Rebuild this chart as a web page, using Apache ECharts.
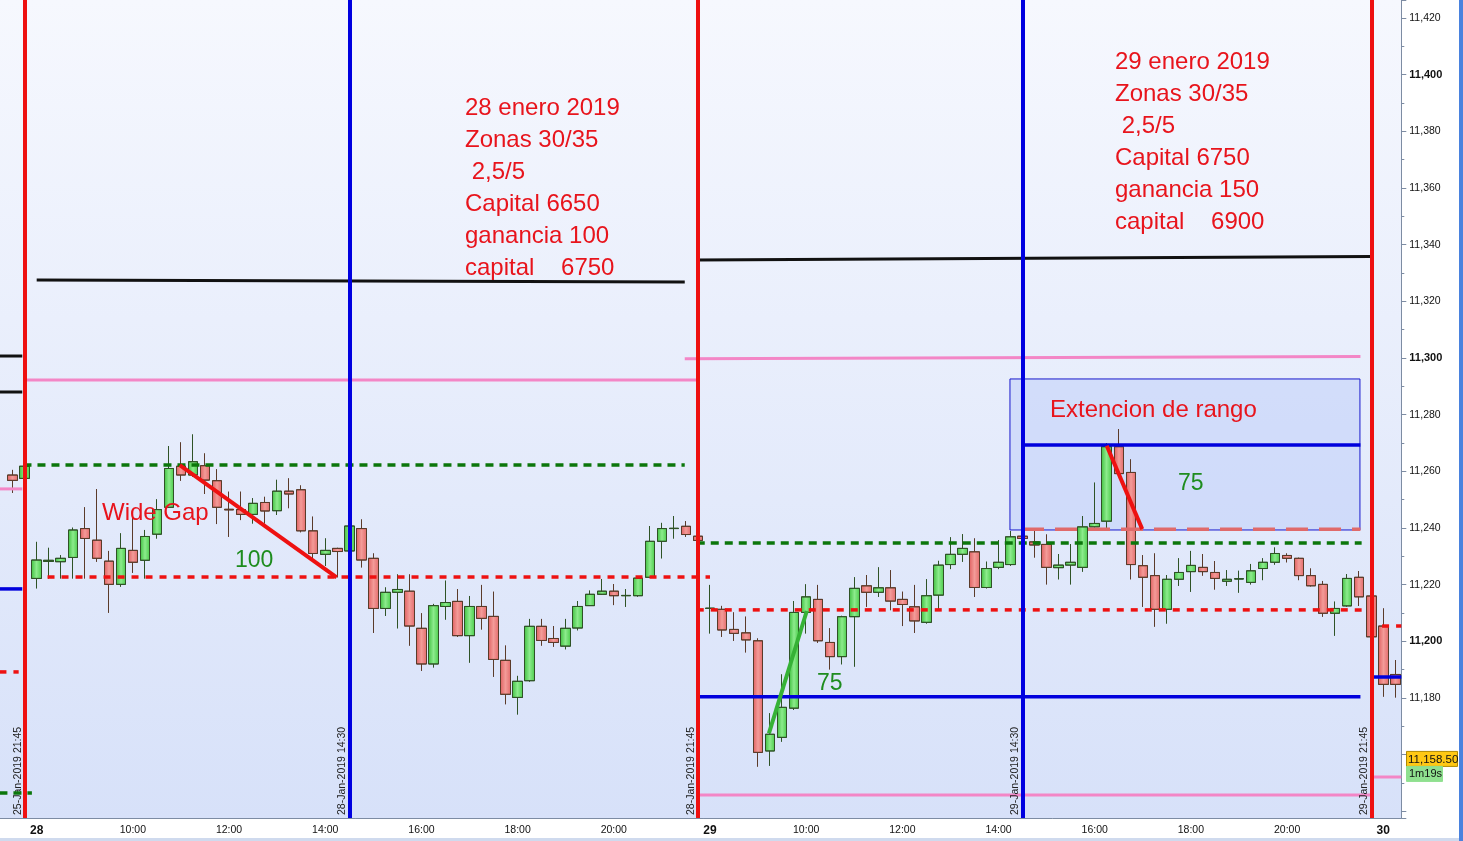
<!DOCTYPE html>
<html><head><meta charset="utf-8">
<script src="https://cdn.jsdelivr.net/npm/echarts@6/dist/echarts.min.js"></script>
<style>html,body{margin:0;padding:0;background:#fff;overflow:hidden}#c{width:1463px;height:841px}</style>
</head><body><div id="c"></div>
<script>
// ---------- DATA ----------
function slots(day, fromMin, toMin) {
  const out = [];
  for (let m = fromMin; m <= toMin; m += 15) {
    const h = String(Math.floor(m / 60)).padStart(2, '0');
    const mm = String(m % 60).padStart(2, '0');
    out.push(day + ' ' + h + ':' + mm);
  }
  return out;
}
// 15-minute bars; bar index 0 of the overlay axis = 28-Jan-2019 08:00
const categories = [].concat(
  slots('25-Jan-2019', 21 * 60 + 30, 21 * 60 + 45),
  slots('28-Jan-2019', 8 * 60, 21 * 60 + 45),
  slots('29-Jan-2019', 8 * 60, 21 * 60 + 45),
  slots('30-Jan-2019', 8 * 60, 8 * 60 + 15)
);

const opens = [
11258.7, 11257.5,
11222.2, 11228.2, 11228.1, 11229.6, 11239.8, 11235.7, 11228.3, 11220.1, 11232.1, 11228.6,
11237.8, 11247.3, 11261.8, 11258.7, 11262.0, 11256.7, 11246.6, 11246.5, 11244.8, 11249.0,
11246.1, 11253.0, 11253.5, 11239.0, 11230.7, 11232.8, 11231.9, 11239.8, 11229.3, 11211.6,
11217.3, 11217.7, 11204.6, 11192.0, 11212.3, 11214.1, 11202.0, 11212.3, 11208.8, 11193.3,
11180.2, 11186.1, 11205.3, 11201.0, 11198.3, 11204.7, 11212.6, 11216.6, 11217.7, 11216.1,
11216.1, 11222.6, 11235.3, 11239.8, 11240.6, 11237.1,
11211.6, 11211.3, 11204.2, 11203.0,
11200.2, 11161.3, 11166.1, 11176.4, 11210.2, 11214.8, 11199.6, 11194.6, 11208.7, 11219.6,
11217.3, 11218.9, 11214.8, 11212.2, 11206.7, 11216.3, 11227.1, 11230.7, 11231.6, 11219.0,
11226.1, 11227.1, 11237.1, 11235.1, 11234.2, 11226.0, 11226.9, 11226.1, 11240.4, 11242.4,
11268.7, 11259.6, 11226.7, 11223.2, 11211.3, 11221.9, 11224.6, 11226.1, 11224.3, 11221.2,
11222.0, 11220.8, 11225.7, 11227.9, 11230.3, 11229.3, 11223.2, 11220.1, 11209.9, 11212.5,
11222.6, 11216.0, 11205.4, 11188.3
];
const closes = [
11256.8, 11261.8,
11228.7, 11228.6, 11229.3, 11239.3, 11236.3, 11229.3, 11220.1, 11232.8, 11227.9, 11237.0,
11246.5, 11261.0, 11258.7, 11263.4, 11256.9, 11247.3, 11246.4, 11244.8, 11248.7, 11246.0,
11253.0, 11252.0, 11239.0, 11231.0, 11232.1, 11231.7, 11240.7, 11228.7, 11211.6, 11217.3,
11218.3, 11205.4, 11192.0, 11212.6, 11213.7, 11202.0, 11212.3, 11208.1, 11193.6, 11181.3,
11185.9, 11205.3, 11200.3, 11199.6, 11204.6, 11212.3, 11216.6, 11217.7, 11216.1, 11216.2,
11222.3, 11235.3, 11239.8, 11239.9, 11237.7, 11235.6,
11211.7, 11204.0, 11202.8, 11200.5,
11160.8, 11167.2, 11176.7, 11210.2, 11215.7, 11200.2, 11194.6, 11208.7, 11218.7, 11217.3,
11218.9, 11214.2, 11213.0, 11207.2, 11216.1, 11226.9, 11230.7, 11232.8, 11219.0, 11225.7,
11227.9, 11236.9, 11236.3, 11234.0, 11226.1, 11226.9, 11227.9, 11240.4, 11241.6, 11268.7,
11259.2, 11227.1, 11222.6, 11211.3, 11221.9, 11224.3, 11226.8, 11224.6, 11222.2, 11221.9,
11222.1, 11224.9, 11227.9, 11231.0, 11229.3, 11223.2, 11219.6, 11209.9, 11211.6, 11222.2,
11215.7, 11201.6, 11184.8, 11184.8
];
const lows = [
11252.4, 11256.0,
11218.7, 11222.2, 11222.2, 11222.2, 11222.2, 11228.1, 11210.1, 11219.3, 11224.2, 11222.2,
11236.3, 11247.3, 11256.7, 11258.1, 11252.0, 11241.4, 11236.9, 11242.8, 11241.6, 11241.6,
11244.6, 11247.0, 11238.5, 11229.3, 11226.6, 11222.6, 11231.0, 11226.1, 11203.0, 11209.0,
11204.6, 11198.5, 11189.6, 11190.8, 11207.7, 11201.6, 11192.5, 11204.2, 11187.5, 11177.8,
11174.2, 11185.8, 11198.5, 11198.1, 11197.2, 11203.9, 11212.5, 11216.5, 11212.8, 11212.2,
11215.8, 11222.6, 11229.3, 11236.3, 11236.9, 11234.5,
11202.8, 11201.6, 11200.2, 11196.1,
11155.8, 11156.1, 11164.6, 11175.8, 11202.8, 11199.5, 11190.1, 11191.9, 11191.1, 11212.2,
11215.7, 11211.0, 11205.4, 11203.0, 11206.3, 11211.3, 11225.5, 11228.1, 11215.7, 11218.7,
11225.5, 11226.7, 11235.5, 11229.6, 11220.1, 11221.9, 11220.1, 11224.6, 11240.2, 11239.8,
11259.0, 11221.9, 11212.2, 11205.2, 11206.3, 11219.6, 11217.5, 11223.2, 11218.3, 11219.6,
11217.2, 11220.1, 11221.6, 11227.1, 11227.9, 11221.6, 11219.4, 11208.7, 11202.0, 11212.3,
11212.5, 11201.0, 11180.5, 11180.2
];
const highs = [
11260.5, 11263.0,
11235.1, 11233.0, 11230.4, 11240.1, 11247.3, 11253.7, 11231.9, 11238.1, 11243.6, 11239.3,
11250.1, 11268.9, 11270.2, 11273.0, 11266.3, 11260.7, 11252.8, 11252.8, 11250.5, 11251.0,
11257.0, 11257.5, 11255.0, 11244.0, 11236.3, 11233.0, 11242.8, 11243.0, 11231.0, 11219.0,
11223.6, 11223.6, 11209.9, 11213.2, 11221.4, 11218.4, 11216.0, 11219.9, 11217.5, 11198.5,
11187.8, 11207.9, 11207.9, 11205.4, 11207.9, 11214.2, 11217.9, 11222.0, 11220.2, 11218.4,
11222.5, 11240.7, 11241.8, 11244.2, 11242.4, 11237.8,
11219.9, 11212.5, 11210.2, 11208.7,
11201.0, 11174.6, 11188.3, 11214.2, 11220.1, 11219.9, 11204.6, 11209.0, 11222.6, 11223.4,
11226.1, 11225.1, 11217.5, 11219.9, 11221.9, 11228.4, 11236.7, 11237.8, 11236.3, 11228.1,
11235.7, 11238.9, 11238.0, 11238.9, 11237.7, 11230.8, 11234.3, 11244.2, 11256.0, 11270.0,
11274.9, 11264.2, 11230.4, 11231.0, 11223.4, 11229.3, 11231.9, 11230.8, 11228.3, 11225.1,
11224.9, 11227.3, 11229.3, 11233.1, 11231.0, 11229.5, 11225.7, 11221.3, 11214.0, 11223.7,
11224.8, 11218.0, 11211.6, 11193.4
];

// level segments: [barFrom, barTo, priceFrom, priceTo]  (bar index 0 = 28-Jan 08:00)
const blackLevels = [[0, 53.9, 11327.5, 11326.8], [54.9, 110.9, 11334.6, 11335.8], [-3.1, -1.2, 11300.7, 11300.7], [-3.1, -1.2, 11288.0, 11288.0]];
const pinkLevels = [[-1.1, 54.9, 11292.2, 11292.2], [53.9, 110.1, 11299.7, 11300.5], [54.9, 110.9, 11145.8, 11145.8], [111.0, 113.5, 11152.1, 11152.1], [-3.1, -1.2, 11253.8, 11253.8]];
const greenDashLevels = [[-1.1, 53.9, 11262.2, 11262.2], [54.9, 110.2, 11234.7, 11234.7], [-3.1, -0.4, 11146.5, 11146.5]];
const redDashLevels = [[0.9, 56.0, 11222.7, 11222.7], [54.9, 110.2, 11211.1, 11211.1], [-3.1, -1.5, 11189.2, 11189.2], [111.9, 113.5, 11205.4, 11205.4]];
const blueLevels = [[54.9, 110.1, 11180.4, 11180.4], [81.95, 110.1, 11269.3, 11269.3], [-3.1, -1.2, 11218.5, 11218.5], [111.0, 113.5, 11187.4, 11187.4]];
const salmonDashLevels = [[81.95, 110.1, 11239.6, 11239.6]];
const rangeBox = [80.95, 110.06, 11239.3, 11292.6];
const redTrends = [[[11.9, 11262.2], [24.95, 11222.6]], [[89.0, 11269.0], [91.95, 11239.6]]];
const greenTrends = [[[60.9, 11167.5], [64.05, 11210.7]]];
// vertical session markers: [barIndex, label, kind]
const sessionMarkers = [[-1, '25-Jan-2019 21:45', 'end'], [55, '28-Jan-2019 21:45', 'end'], [111, '29-Jan-2019 21:45', 'end'],
                        [26, '28-Jan-2019 14:30', 'mid'], [82, '29-Jan-2019 14:30', 'mid']];
const lastPrice = 11158.5;
const lastPriceText = '11,158.50';
const countdownText = '1m19s';
const notes1 = ['28 enero 2019', 'Zonas 30/35', ' 2,5/5', 'Capital 6650', 'ganancia 100', 'capital    6750'];
const notes2 = ['29 enero 2019', 'Zonas 30/35', ' 2,5/5', 'Capital 6750', 'ganancia 150', 'capital    6900'];

// ---------- CHART ----------
const FONT = '"Liberation Sans", Arial, sans-serif';
const chart = echarts.init(document.getElementById('c'), null, { renderer: 'canvas' });

const candleData = categories.map((c, i) => [opens[i], closes[i], lows[i], highs[i]]);
const FIRST_BAR = -2;   // bar index of first category
const LAST_BAR = 113;
const EDGE = FIRST_BAR - 0.5;

function isLabelSlot(idx, val) {
  const t = val.split(' ')[1];
  const h = parseInt(t.slice(0, 2), 10), m = t.slice(3);
  return m === '00' && h % 2 === 0 && h >= 8 && h <= 20;
}
function xFmt(val) {
  const parts = val.split(' ');
  if (parts[1] === '08:00') return '{b|' + parseInt(parts[0], 10) + '}';
  return parts[1];
}
function yFmt(v) {
  const r = Math.round(v);
  if (Math.abs(v - r) > 1e-6 || r % 20 !== 0 || r < 11170) return '';
  const s = r.toLocaleString('en-US');
  return r % 100 === 0 ? '{b|' + s + '}' : s;
}

const styles = {
  black: { color: '#111111', width: 3 },
  pink: { color: '#f386c6', width: 3 },
  green: { color: '#0b760b', width: 3.5, type: [8, 6] },
  red: { color: '#ee1111', width: 3.5, type: [7, 7] },
  blue: { color: '#0000dd', width: 3.5 },
  salmon: { color: '#e06a6a', width: 3.5, type: [22, 11] }
};
const levelGroups = [[blackLevels, 'black'], [pinkLevels, 'pink'], [greenDashLevels, 'green'],
                     [redDashLevels, 'red'], [blueLevels, 'blue'], [salmonDashLevels, 'salmon']];

function segSeries(list, lineStyle) {
  return list.filter(s => s[0] >= EDGE).map(s => ({
    type: 'line', xAxisIndex: 1, yAxisIndex: 0, silent: true, symbol: 'none', z: 3,
    data: [[s[0], s[2]], [s[1], s[3]]], lineStyle: lineStyle, animation: false
  }));
}
function trendSeries(list, lineStyle) {
  return list.map(p => ({
    type: 'line', xAxisIndex: 1, yAxisIndex: 0, silent: true, symbol: 'none', z: 6,
    data: p, lineStyle: lineStyle, animation: false
  }));
}

const upFill = { type: 'linear', x: 0, y: 0, x2: 1, y2: 0, colorStops: [
  { offset: 0, color: '#3fbf3f' }, { offset: 0.5, color: '#8ceb8c' }, { offset: 1, color: '#4acb4a' }] };
const downFill = { type: 'linear', x: 0, y: 0, x2: 1, y2: 0, colorStops: [
  { offset: 0, color: '#df5f5f' }, { offset: 0.5, color: '#f39b98' }, { offset: 1, color: '#e36a6a' }] };
const plotBg = { type: 'linear', x: 0, y: 0, x2: 0, y2: 1, colorStops: [
  { offset: 0, color: '#f6f8fe' }, { offset: 1, color: '#d7e1f9' }] };

const series = [];
series.push({
  type: 'line', xAxisIndex: 1, yAxisIndex: 0, data: [[rangeBox[0], rangeBox[2]]], symbol: 'none', silent: true, z: 1,
  lineStyle: { opacity: 0 },
  markArea: { silent: true, itemStyle: { color: 'rgba(185,202,248,0.45)', borderColor: '#1818cc', borderWidth: 1 },
    data: [[{ coord: [rangeBox[0], rangeBox[3]] }, { coord: [rangeBox[1], rangeBox[2]] }]] }
});
series.push({
  type: 'candlestick', xAxisIndex: 0, yAxisIndex: 0, data: candleData, barWidth: 10, z: 2,
  itemStyle: { color: upFill, color0: downFill, borderColor: '#2f5326', borderColor0: '#5b3b2a', borderWidth: 1 }
});
levelGroups.forEach(([list, key]) => series.push(...segSeries(list, styles[key])));
series.push(...trendSeries(redTrends, { color: '#ee1111', width: 4 }));
series.push(...trendSeries(greenTrends, { color: '#36b236', width: 4 }));
series.push({
  type: 'line', xAxisIndex: 1, yAxisIndex: 0, data: [[0, 11300]], symbol: 'none', silent: true, z: 7,
  lineStyle: { opacity: 0 },
  markLine: {
    silent: true, symbol: ['none', 'none'], animation: false,
    data: sessionMarkers.map(m => ({
      xAxis: m[0],
      lineStyle: { color: m[2] === 'end' ? '#ee1010' : '#0000e0', width: 4, type: 'solid' },
      label: { show: true, position: 'insideStartTop', formatter: m[1], color: '#222', fontSize: 10.5,
        fontFamily: FONT, distance: [3, 1.5] }
    }))
  }
});

const BAND = 12.023;
const gridLeft = 36.7 + (FIRST_BAR - 0.5) * BAND;            // left edge of first band
const gridRight = 1463 - (36.7 + (LAST_BAR + 0.5) * BAND);

chart.setOption({
  animation: false,
  backgroundColor: '#ffffff',
  grid: { left: gridLeft, right: gridRight, top: 0, bottom: 23, show: true, borderWidth: 0, backgroundColor: plotBg },
  xAxis: [{
    type: 'category', data: categories, boundaryGap: true, gridIndex: 0,
    axisLine: { onZero: false, lineStyle: { color: '#7d8ca3', width: 1 } },
    axisTick: { alignWithLabel: true, interval: isLabelSlot, length: 5, lineStyle: { color: '#7d8ca3' } },
    axisLabel: { interval: isLabelSlot, formatter: xFmt, color: '#111', fontSize: 10.5, fontFamily: FONT, margin: 7,
      rich: { b: { fontWeight: 'bold', fontSize: 12, fontFamily: FONT, color: '#111' } } },
    splitLine: { show: false }
  }, {
    type: 'value', min: FIRST_BAR - 0.5, max: LAST_BAR + 0.5, show: false, gridIndex: 0, splitLine: { show: false },
    axisLine: { onZero: false }
  }],
  yAxis: [{
    type: 'value', position: 'right', min: 11137.647, max: 11426.353, splitNumber: 14, minInterval: 20, maxInterval: 20,
    axisLine: { show: true, onZero: false, lineStyle: { color: '#7d8ca3' } },
    axisTick: { show: true, length: 5, lineStyle: { color: '#7d8ca3' } },
    minorTick: { show: true, splitNumber: 2, length: 3, lineStyle: { color: '#7d8ca3' } },
    splitLine: { show: false }, minorSplitLine: { show: false },
    axisLabel: { formatter: yFmt, showMinLabel: false, showMaxLabel: false, margin: 8, color: '#111', fontSize: 10.5,
      fontFamily: FONT, rich: { b: { fontWeight: 'bold', fontSize: 11, fontFamily: FONT, color: '#111' } } }
  }],
  series: series
});

// ---------- annotations ----------
const RED = '#e8141c', GREEN = '#1e8c1e';
function txt(x, y, s, color, size) {
  return { type: 'text', x: x, y: y, z: 100, silent: true,
    style: { text: s, fill: color, font: size + 'px ' + FONT, verticalAlign: 'middle', align: 'left' } };
}
const g = [];
// plot background strip left of the first bar band, and axis line under it
g.push({ type: 'rect', z: -10, silent: true, shape: { x: 0, y: 0, width: Math.ceil(gridLeft) + 1, height: 818 }, style: { fill: plotBg } });
g.push({ type: 'line', z: 50, silent: true, shape: { x1: 0, y1: 818.5, x2: gridLeft + 1, y2: 818.5 }, style: { stroke: '#7d8ca3', lineWidth: 1 } });
// level stubs that begin left of the first bar band (positions from the library's scales)
levelGroups.forEach(([list, key]) => {
  const st = styles[key];
  list.filter(s => s[0] < EDGE).forEach(s => {
    const p1 = chart.convertToPixel({ xAxisIndex: 1, yAxisIndex: 0 }, [s[0], s[2]]);
    const p2 = chart.convertToPixel({ xAxisIndex: 1, yAxisIndex: 0 }, [s[1], s[3]]);
    g.push({ type: 'line', z: 50, silent: true, shape: { x1: p1[0], y1: p1[1], x2: p2[0], y2: p2[1] },
      style: { stroke: st.color, lineWidth: st.width, lineDash: Array.isArray(st.type) ? st.type : null } });
  });
});
notes1.forEach((s, i) => g.push(txt(465, 108 + i * 32, s, RED, 24)));
notes2.forEach((s, i) => g.push(txt(1115, 62 + i * 32, s, RED, 24)));
g.push(txt(102, 513, 'Wide Gap', RED, 24));
g.push(txt(1050, 410, 'Extencion de rango', RED, 24));
g.push(txt(235, 561, '100', GREEN, 23));
g.push(txt(817, 684, '75', GREEN, 23));
g.push(txt(1178, 484, '75', GREEN, 23));
// price tag anchored on the price scale
const py = chart.convertToPixel({ yAxisIndex: 0 }, lastPrice);
g.push({ type: 'rect', z: 100, silent: true, shape: { x: 1406.5, y: py - 7.5, width: 51, height: 15 },
  style: { fill: '#ffc814', stroke: '#b08a00', lineWidth: 1 } });
g.push(txt(1408, py + 0.5, lastPriceText, '#111', 11.5));
g.push({ type: 'rect', z: 100, silent: true, shape: { x: 1406.5, y: py + 7.5, width: 36, height: 15 },
  style: { fill: '#8fe08f', stroke: '#8fe08f', lineWidth: 1 } });
g.push(txt(1409, py + 15.5, countdownText, '#111', 11));
// window frame
g.push({ type: 'rect', z: 100, silent: true, shape: { x: 1459, y: 0, width: 4, height: 841 }, style: { fill: '#4a82de' } });
g.push({ type: 'rect', z: 100, silent: true, shape: { x: 0, y: 838, width: 1459, height: 3 }, style: { fill: '#cfdaee' } });
chart.setOption({ graphic: g });
</script></body></html>
